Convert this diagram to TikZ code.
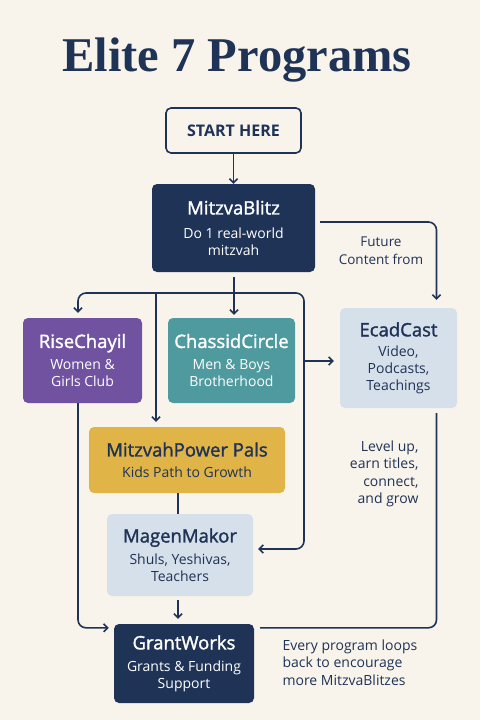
\documentclass[tikz,border=0pt]{standalone}
\usepackage{fontspec}
\setmainfont{Open Sans}
\newfontfamily\headfont{Liberation Serif}
\newfontfamily\cardfont[FakeBold=1.6]{Open Sans}
\usetikzlibrary{arrows.meta}

\definecolor{cream}{HTML}{F8F4EC}
\definecolor{navy}{HTML}{1F3356}
\definecolor{grape}{HTML}{7052A0}
\definecolor{teal}{HTML}{4F9A9E}
\definecolor{gold}{HTML}{E1B447}
\definecolor{mist}{HTML}{D6E0EB}

\newcommand{\boxhead}[1]{{\cardfont\fontsize{18.5}{22}\selectfont #1}}

\begin{document}
\begin{tikzpicture}[x=1pt,y=-1pt,
    card/.style={rounded corners=5pt, align=center, inner sep=0pt,
      font=\fontsize{14}{17}\selectfont},
    note/.style={navy, font=\fontsize{14}{17.5}\selectfont},
    flow/.style={navy, line width=1.6pt, -{Straight Barb[length=4pt,width=8pt]}},
    wire/.style={navy, line width=1.6pt}]
  % Background and frame
  \fill[cream] (0,0) rectangle (480,720);
  \useasboundingbox (0,0) rectangle (480,720);

  % Title
  \node[navy, font=\headfont\bfseries\fontsize{48.5}{54}\selectfont] (title) at (237,60) {Elite 7 Programs};

  % Start box
  \node[card, draw=navy, line width=1.6pt, minimum width=135pt, minimum height=45pt,
    text=navy, font=\bfseries\fontsize{16}{19}\selectfont] (start) at (233.5,130.5) {START HERE};

  % The programs
  \node[card, fill=navy, text=white, minimum width=163pt, minimum height=88pt] (blitz) at (233.5,228)
    {\boxhead{MitzvaBlitz}\\[7pt]Do 1 real-world\\mitzvah};
  \node[card, fill=grape, text=white, minimum width=119pt, minimum height=85pt] (rise) at (82.5,360.5)
    {\boxhead{RiseChayil}\\[5pt]Women \&\\Girls Club};
  \node[card, fill=teal, text=white, minimum width=127pt, minimum height=85pt] (chassid) at (231.5,360.5)
    {\boxhead{ChassidCircle}\\[5pt]Men \& Boys\\Brotherhood};
  \node[card, fill=mist, text=navy, minimum width=117pt, minimum height=100pt] (ecad) at (398.5,358)
    {\boxhead{EcadCast}\\[3pt]Video,\\Podcasts,\\Teachings};
  \node[card, fill=gold, text=navy, minimum width=196pt, minimum height=66pt] (pals) at (187,460)
    {\boxhead{MitzvahPower Pals}\\[4pt]Kids Path to Growth};
  \node[card, fill=mist, text=navy, minimum width=146pt, minimum height=82pt] (magen) at (180,555)
    {\boxhead{MagenMakor}\\[5pt]Shuls, Yeshivas,\\Teachers};
  \node[card, fill=navy, text=white, minimum width=140pt, minimum height=79pt] (grant) at (184,663.5)
    {\boxhead{GrantWorks}\\[5pt]Grants \& Funding\\Support};

  % Side notes
  \node[note, align=center, font=\fontsize{13.5}{18}\selectfont] (future) at (381,251) {Future\\Content from};
  \node[note, align=right, anchor=north east] (level) at (422,437)
    {Level up,\\earn titles,\\connect,\\and grow};
  \node[note, align=left, anchor=north west] (loops) at (279,636)
    {Every program loops\\back to encourage\\more MitzvaBlitzes};

  % Branch points
  \coordinate (hub) at (234,293);
  \coordinate (hubl) at (156,293);
  \coordinate (rbus) at (304,549);
  \coordinate (tap) at (304,361);

  % Connectors
  \draw[flow] (start) -- (blitz);
  \draw[flow, rounded corners=8pt, shorten <=5pt] ([yshift=6pt]blitz.east) -| ([xshift=38pt,yshift=8pt]ecad.north);
  \draw[flow, shorten <=5pt, shorten >=3pt] (blitz.south -| hub) -- (chassid.north -| hub);
  \draw[flow, rounded corners=8pt, shorten >=5pt] (hub) -| ([xshift=-4.5pt]rise.north);
  \draw[flow, rounded corners=8pt, shorten >=5pt] (hub) -| (rbus) -- (rbus -| magen.east);
  \draw[flow, shorten >=5pt] (hubl) -- (hubl |- pals.north);
  \draw[flow, shorten >=6pt] (tap) -- (tap -| ecad.west);
  \draw[wire] (pals.south -| 178,0) -- (magen.north -| 178,0);
  \draw[flow, shorten <=4pt, shorten >=5pt] (magen.south -| 178,0) -- (grant.north -| 178,0);
  \draw[flow, rounded corners=8pt, shorten >=5pt] ([xshift=-4.5pt]rise.south) |- ([yshift=-4pt]grant.north west);
  \draw[wire, rounded corners=8pt, shorten <=5pt, shorten >=6pt] ([xshift=38pt]ecad.south) |- ([yshift=-4pt]grant.north east);
\end{tikzpicture}
\end{document}
